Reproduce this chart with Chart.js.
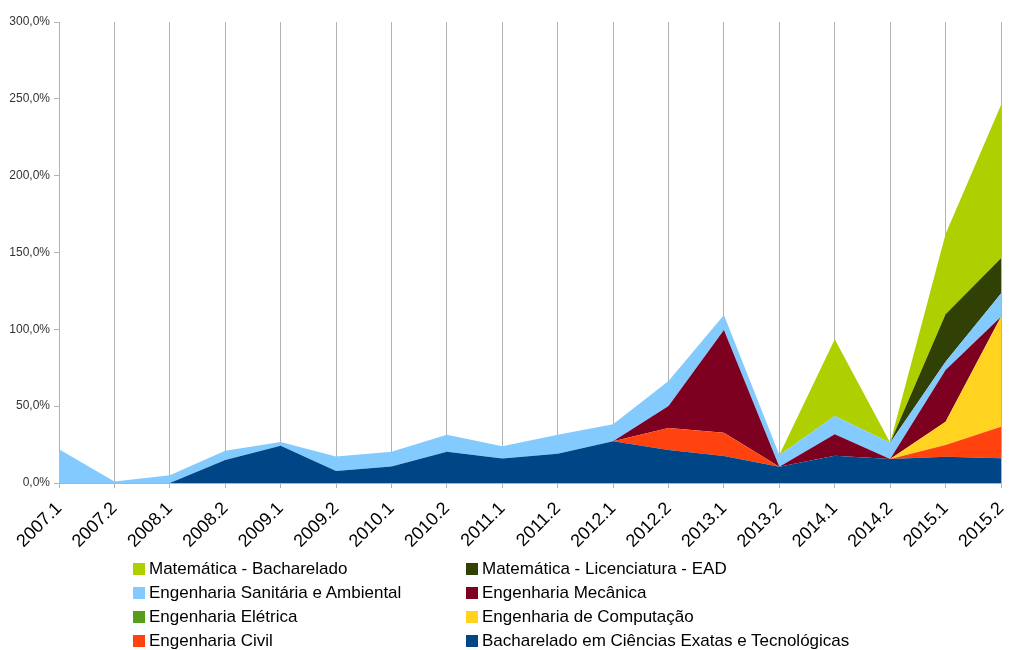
<!DOCTYPE html>
<html>
<head>
<meta charset="utf-8">
<script src="https://cdn.jsdelivr.net/npm/chart.js@4"></script>
<style>
  body { margin: 0; background: #fff; font-family: "Liberation Sans", Arial, sans-serif; }
  #wrap { position: relative; width: 1010px; height: 650px; }
  #legend { position: absolute; left: 133px; top: 557px; display: grid;
            grid-template-columns: 333px 520px; font-size: 17px; color: #000; }
  .item { height: 24px; line-height: 24px; display: flex; align-items: center; white-space: nowrap; }
  .box { width: 12px; height: 12px; margin-right: 4px; }
</style>
</head>
<body>
<div id="wrap">
  <canvas id="chart"></canvas>
  <div id="legend"></div>
</div>
<script>
const semesters = ['2007.1','2007.2','2008.1','2008.2','2009.1','2009.2','2010.1','2010.2','2011.1',
  '2011.2','2012.1','2012.2','2013.1','2013.2','2014.1','2014.2','2015.1','2015.2'];

// stacked from bottom to top
const bacharelado = [0, 0, 0, 15, 24.3, 7.8, 10.8, 20.4, 16, 19.1, 27.2, 21.5, 17.6, 10.5, 17.8, 15.6, 17.1, 16.1];
const civil       = [0, 0, 0, 0, 0, 0, 0, 0, 0, 0, 0, 14.3, 15.1, 0, 0, 0, 7.6, 20.5];
const computacao  = [0, 0, 0, 0, 0, 0, 0, 0, 0, 0, 0, 0, 0, 0, 0, 0, 15.2, 71.6];
const eletrica    = [0, 0, 0, 0, 0, 0, 0, 0, 0, 0, 0, 0, 0, 0, 0, 0, 0, 0];
const mecanica    = [0, 0, 0, 0, 0, 0, 0, 0, 0, 0, 0, 14.3, 66.8, 0, 13.9, 0, 33.6, 0];
const sanitaria   = [22, 1, 5, 6, 2.4, 9.5, 9.6, 11, 7.9, 12.3, 11, 16.3, 9.8, 7.7, 11.9, 10.6, 5.4, 15.2];
const licEad      = [0, 0, 0, 0, 0, 0, 0, 0, 0, 0, 0, 0, 0, 0, 0, 0, 30.9, 22.8];
const matBach     = [0, 0, 0, 0, 0, 0, 0, 0, 0, 0, 0, 0, 0, 0, 49.9, 0, 52.2, 99.8];

const series = [
  { label: 'Bacharelado em Ciências Exatas e Tecnológicas', data: bacharelado, color: '#004586' },
  { label: 'Engenharia Civil', data: civil, color: '#ff420e' },
  { label: 'Engenharia de Computação', data: computacao, color: '#ffd320' },
  { label: 'Engenharia Elétrica', data: eletrica, color: '#579d1c' },
  { label: 'Engenharia Mecânica', data: mecanica, color: '#7e0021' },
  { label: 'Engenharia Sanitária e Ambiental', data: sanitaria, color: '#83caff' },
  { label: 'Matemática - Licenciatura - EAD', data: licEad, color: '#314004' },
  { label: 'Matemática - Bacharelado', data: matBach, color: '#aecf00' }
];

const gridGray = '#b3b3b3';

new Chart(document.getElementById('chart'), {
  type: 'line',
  data: {
    labels: semesters,
    datasets: series.map((s, i) => ({
      label: s.label,
      data: s.data,
      backgroundColor: s.color,
      borderColor: s.color,
      borderWidth: 0,
      pointRadius: 0,
      fill: i === 0 ? 'origin' : '-1',
      tension: 0
    }))
  },
  options: {
    responsive: true,
    maintainAspectRatio: false,
    animation: false,
    layout: { padding: { left: 0, top: 22, right: 9, bottom: 0 } },
    plugins: { legend: { display: false }, tooltip: { enabled: false } },
    scales: {
      x: {
        grid: { color: gridGray, tickColor: gridGray, tickLength: 5 },
        border: { color: gridGray },
        ticks: {
          color: '#000', autoSkip: false, minRotation: 45, maxRotation: 45,
          font: { family: 'Liberation Sans', size: 18 }, padding: 10
        },
        afterFit: (scale) => {
          scale.height = 167;
          scale.paddingLeft = 0;
          scale.paddingRight = 0;
        }
      },
      y: {
        stacked: true,
        min: 0, max: 300,
        grid: { drawOnChartArea: false, tickColor: gridGray, tickLength: 5 },
        border: { color: gridGray },
        ticks: {
          stepSize: 50, color: '#333', padding: 4,
          font: { family: 'Liberation Sans', size: 12 },
          callback: (v) => v.toFixed(1).replace('.', ',') + '%'
        },
        afterFit: (scale) => { scale.width = 59; }
      }
    }
  }
});

// legend: top of the stack first, two columns
const legend = document.getElementById('legend');
series.slice().reverse().forEach((s) => {
  const item = document.createElement('div');
  item.className = 'item';
  const box = document.createElement('span');
  box.className = 'box';
  box.style.background = s.color;
  item.appendChild(box);
  item.appendChild(document.createTextNode(s.label));
  legend.appendChild(item);
});
</script>
</body>
</html>
